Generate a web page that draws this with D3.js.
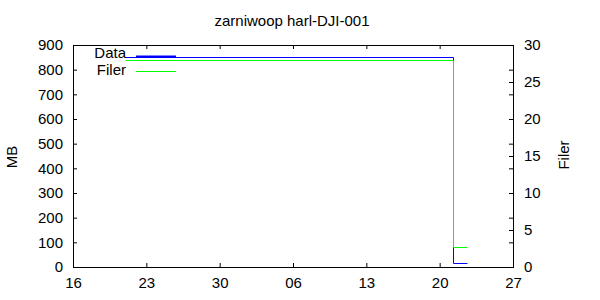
<!DOCTYPE html>
<html>
<head>
<meta charset="utf-8">
<script src="https://cdn.jsdelivr.net/npm/d3@7"></script>
<style>
  html, body { margin: 0; padding: 0; background: #fff; }
  svg { display: block; }
  text { font-family: "Liberation Sans", Arial, sans-serif; fill: #000; }
</style>
</head>
<body>
<svg id="chart" width="600" height="300"></svg>
<script>
// ---- data ----
const title = "zarniwoop harl-DJI-001";
const xDomain = ["2012-07-16T00:00:00Z", "2012-08-27T00:00:00Z"];
const times = ["2012-07-21T00:00:00Z", "2012-08-21T06:00:00Z", "2012-08-22T14:00:00Z"];
const dataMB = [850, 16, 16];
const filerCount = [28, 2.7, 2.7];
const yTicks = [0, 100, 200, 300, 400, 500, 600, 700, 800, 900];
const y2Ticks = [0, 5, 10, 15, 20, 25, 30];
const seriesNames = ["Data", "Filer"];

// ---- layout ----
const W = 600, H = 300;
const m = { left: 73, right: 87, top: 45, bottom: 33 };
const pw = W - m.left - m.right, ph = H - m.top - m.bottom;
const fs = "15px";

const svg = d3.select("#chart");
const g = svg.append("g").attr("transform", `translate(${m.left},${m.top})`);

const x = d3.scaleUtc().domain(xDomain.map(d => new Date(d))).range([0, pw]);
const y = d3.scaleLinear().domain([0, 900]).range([ph, 0]);
const y2 = d3.scaleLinear().domain([0, 30]).range([ph, 0]);

const xTicks = d3.utcMonday.range(x.domain()[0], d3.utcDay.offset(x.domain()[1], 1));
const fmt = d3.utcFormat("%d");

function style(sel) {
  sel.select(".domain").remove();
  sel.selectAll(".tick line").attr("stroke", "#000").attr("stroke-width", 1);
  sel.selectAll(".tick text").style("font-size", fs).attr("font-family", null);
}

// bottom axis
g.append("g").attr("transform", `translate(0,${ph})`)
  .call(d3.axisBottom(x).tickValues(xTicks).tickFormat(fmt).tickSizeInner(-4).tickSizeOuter(0).tickPadding(10))
  .call(style);
// top mirror
g.append("g")
  .call(d3.axisTop(x).tickValues(xTicks).tickFormat("").tickSizeInner(-4).tickSizeOuter(0))
  .call(style);
// left axis
g.append("g")
  .call(d3.axisLeft(y).tickValues(yTicks).tickSizeInner(-4).tickSizeOuter(0).tickPadding(10))
  .call(style);
// right mirror of left ticks
g.append("g").attr("transform", `translate(${pw},0)`)
  .call(d3.axisRight(y).tickValues(yTicks).tickFormat("").tickSizeInner(-4).tickSizeOuter(0))
  .call(style);
// right y2 axis
g.append("g").attr("transform", `translate(${pw},0)`)
  .call(d3.axisRight(y2).tickValues(y2Ticks).tickSizeInner(-4).tickSizeOuter(0).tickPadding(11))
  .call(style);

// border
g.append("rect").attr("x", 0.5).attr("y", 0.5).attr("width", pw).attr("height", ph)
  .attr("fill", "none").attr("stroke", "#000").attr("stroke-width", 1);

// lines
const pts = times.map((t, i) => ({ t: new Date(t), mb: dataMB[i], f: filerCount[i] }));
const lineMB = d3.line().curve(d3.curveStepAfter).x(d => Math.round(x(d.t)) + 0.5).y(d => Math.round(y(d.mb)) + 0.5);
const lineF = d3.line().curve(d3.curveStepAfter).x(d => Math.round(x(d.t)) + 0.5).y(d => Math.round(y2(d.f)) + 0.5);

g.append("path").datum(pts).attr("d", lineMB).attr("fill", "none").attr("stroke", "#0000ff").attr("stroke-width", 1);
g.append("path").datum(pts).attr("d", lineF).attr("fill", "none").attr("stroke", "#00ff00").attr("stroke-width", 1);

// legend
const legend = svg.append("g");
const keyColors = ["#0000ff", "#00ff00"];
const keyWidths = [2, 1];
seriesNames.forEach((n, i) => {
  legend.append("text").attr("x", 126).attr("y", 58 + i * 17).attr("text-anchor", "end")
    .style("font-size", fs).text(n);
  legend.append("line").attr("x1", 136).attr("x2", 176)
    .attr("y1", 56.5 + i * 15).attr("y2", 56.5 + i * 15)
    .attr("stroke", keyColors[i]).attr("stroke-width", keyWidths[i]);
});

// title & axis labels
svg.append("text").attr("x", 292).attr("y", 26).attr("text-anchor", "middle").style("font-size", fs).text(title);
svg.append("text").attr("transform", "translate(17,157) rotate(-90)").attr("text-anchor", "middle").style("font-size", fs).text("MB");
svg.append("text").attr("transform", "translate(569,155) rotate(-90)").attr("text-anchor", "middle").style("font-size", fs).text("Filer");
</script>
</body>
</html>
